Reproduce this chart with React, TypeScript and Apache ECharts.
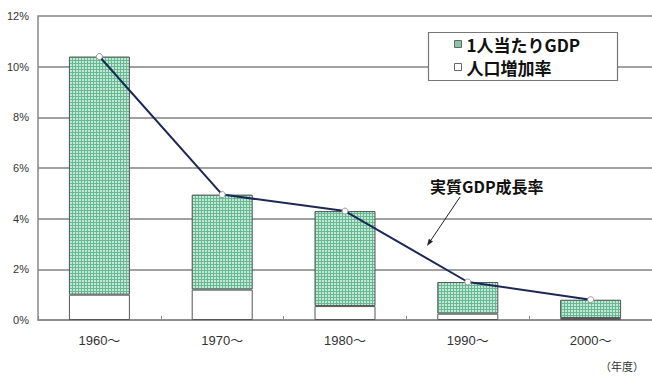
import React, { useEffect, useRef } from "react";
import * as echarts from "echarts";

const categories = ["1960〜", "1970〜", "1980〜", "1990〜", "2000〜"];
const populationGrowth = [1.0, 1.2, 0.55, 0.25, 0.08];
const perCapitaGdp = [9.4, 3.75, 3.75, 1.25, 0.72];
const realGdpGrowth = [10.4, 4.95, 4.3, 1.5, 0.8];
const yTicks = { min: 0, max: 12, interval: 2 };

const seriesNames = {
  perCapita: "1人当たりGDP",
  population: "人口増加率",
  real: "実質GDP成長率",
};

function makePattern(): string {
  const c = document.createElement("canvas");
  c.width = 3;
  c.height = 3;
  const ctx = c.getContext("2d")!;
  ctx.fillStyle = "#c2e8d6";
  ctx.fillRect(0, 0, 3, 3);
  ctx.fillStyle = "#68b893";
  ctx.fillRect(0, 0, 1, 3);
  ctx.fillRect(0, 0, 3, 1);
  return c.toDataURL();
}

export default function App() {
  const ref = useRef<HTMLDivElement>(null);
  useEffect(() => {
    if (!ref.current) return;
    const chart = echarts.init(ref.current, undefined, { renderer: "svg" });
    const pattern = {
      image: makePattern(),
      repeat: "repeat",
      imageWidth: 3,
      imageHeight: 3,
    } as any;
    const font = "'Liberation Sans', 'Noto Sans CJK JP', sans-serif";
    const cjkFont = "'Noto Sans CJK JP', sans-serif";
    // arrow geometry
    const tip = [427, 246];
    const tail = [460, 197];
    const dx = tip[0] - tail[0];
    const dy = tip[1] - tail[1];
    const len = Math.hypot(dx, dy);
    const ux = dx / len;
    const uy = dy / len;
    const bx = tip[0] - 7 * ux;
    const by = tip[1] - 7 * uy;
    const px = -uy;
    const py = ux;
    chart.setOption({
      animation: false,
      backgroundColor: "#ffffff",
      textStyle: { fontFamily: font },
      grid: { left: 38, right: -4, top: 16, bottom: 56 },
      legend: {
        left: 454,
        top: 34,
        orient: "vertical",
        padding: 0,
        itemGap: 3,
        itemWidth: 7,
        itemHeight: 7,
        icon: "rect",
        selectedMode: false,
        z: 10,
        textStyle: {
          fontFamily: cjkFont,
          fontSize: 17,
          fontWeight: "bold",
          color: "#111",
          lineHeight: 20,
          padding: [0, 0, 0, 0],
        },
        data: [
          {
            name: seriesNames.perCapita,
            itemStyle: { color: "#86c7a8", borderColor: "#666", borderWidth: 1 },
          },
          {
            name: seriesNames.population,
            itemStyle: { color: "#ffffff", borderColor: "#666", borderWidth: 1 },
          },
        ],
      },
      xAxis: {
        type: "category",
        data: categories,
        axisLine: { show: true, lineStyle: { color: "#888", width: 1.5 } },
        axisTick: {
          show: true,
          inside: true,
          length: 4,
          lineStyle: { color: "#888", width: 1 },
        },
        axisLabel: { fontSize: 13, color: "#333", margin: 14, fontFamily: font },
      },
      yAxis: {
        type: "value",
        min: yTicks.min,
        max: yTicks.max,
        interval: yTicks.interval,
        axisLine: { show: true, lineStyle: { color: "#888", width: 1.5 } },
        axisTick: { show: false },
        axisLabel: {
          fontSize: 11,
          color: "#333",
          margin: 9,
          formatter: "{value}%",
          fontFamily: font,
        },
        splitLine: { show: true, lineStyle: { color: "#828282", width: 1.5 } },
      },
      graphic: [
        {
          type: "rect",
          z: 5,
          shape: { x: 428.5, y: 32.5, width: 189, height: 48 },
          style: { fill: "#fff", stroke: "#777", lineWidth: 1.2 },
        },
        {
          type: "text",
          z: 10,
          x: 430,
          y: 186,
          style: {
            text: seriesNames.real,
            fontSize: 16,
            fontWeight: "bold",
            fontFamily: cjkFont,
            fill: "#111",
            verticalAlign: "middle",
          },
        },
        {
          type: "line",
          z: 10,
          shape: { x1: tail[0], y1: tail[1], x2: bx, y2: by },
          style: { stroke: "#222", lineWidth: 1 },
        },
        {
          type: "polygon",
          z: 10,
          shape: {
            points: [
              [tip[0], tip[1]],
              [bx + 2.5 * px, by + 2.5 * py],
              [bx - 2.5 * px, by - 2.5 * py],
            ],
          },
          style: { fill: "#222" },
        },
        {
          type: "text",
          z: 10,
          x: 600,
          y: 366,
          style: {
            text: "（年度）",
            fontSize: 11,
            fontFamily: cjkFont,
            fill: "#333",
            verticalAlign: "middle",
          },
        },
      ],
      series: [
        {
          name: seriesNames.population,
          type: "bar",
          stack: "gdp",
          barWidth: 61,
          data: populationGrowth,
          itemStyle: { color: "#ffffff", borderColor: "#555", borderWidth: 1 },
        },
        {
          name: seriesNames.perCapita,
          type: "bar",
          stack: "gdp",
          barWidth: 61,
          data: perCapitaGdp,
          itemStyle: { color: pattern, borderColor: "#555", borderWidth: 1 },
        },
        {
          name: seriesNames.real,
          type: "line",
          data: realGdpGrowth,
          z: 5,
          symbol: "circle",
          symbolSize: 6,
          lineStyle: { color: "#1c2756", width: 2 },
          itemStyle: { color: "#ffffff", borderColor: "#999", borderWidth: 1 },
        },
      ],
    });
    return () => chart.dispose();
  }, []);
  return (
    <div
      ref={ref}
      style={{ position: "fixed", left: 0, top: 0, width: 652, height: 376 }}
    />
  );
}
